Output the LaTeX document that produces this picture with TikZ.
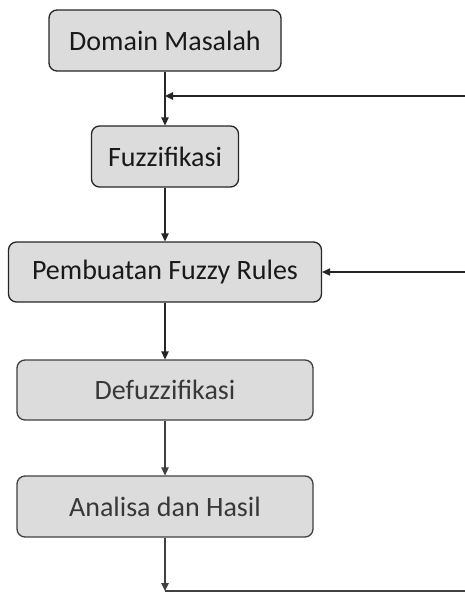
\documentclass[tikz,border=0pt]{standalone}
\usepackage{fontspec}
\setmainfont{Carlito}
\usetikzlibrary{arrows.meta}
\definecolor{boxfill}{HTML}{DCDCDC}
\definecolor{boxline}{HTML}{262626}
\definecolor{softline}{HTML}{404040}
\definecolor{softtext}{HTML}{383838}
\tikzset{
  flowbox/.style={draw=boxline, fill=boxfill, rounded corners=8pt, line width=1.3pt,
    inner sep=0pt, font=\fontsize{28}{31}\selectfont, text=black!90},
  softbox/.style={flowbox, draw=softline, text=softtext},
  conn/.style={line width=1.3pt, draw=boxline, -{Triangle[length=8pt,width=7.5pt]}},
  softconn/.style={conn, draw=softline, -{Triangle[length=8pt,width=7.5pt,fill=softline]}},
  plain/.style={line width=1.3pt, draw=softline}
}
\begin{document}
\begin{tikzpicture}[x=1pt,y=-1pt]
\useasboundingbox (0,0) rectangle (465,592);
\node[flowbox, minimum width=232pt, minimum height=61pt] (dm) at (165,40.5) {Domain Masalah};
\node[flowbox, minimum width=147pt, minimum height=61pt] (fz) at (165,156.5) {Fuzzifikasi};
\node[flowbox, minimum width=313pt, minimum height=60pt] (pf) at (165,272) {Pembuatan Fuzzy Rules};
\node[softbox, minimum width=296pt, minimum height=60pt] (df) at (165,390) {Defuzzifikasi};
\node[softbox, minimum width=296pt, minimum height=61pt] (ah) at (165,506.5) {Analisa dan Hasil};
\coordinate (in1) at (465,96);
\coordinate (j1) at (165,96);
\coordinate (in2) at (465,272);
\coordinate (bot) at (165,591);
\coordinate (out) at (465,591);
\draw[conn] (dm) -- (fz);
\draw[conn] (in1) -- (j1);
\draw[conn] (fz) -- (pf);
\draw[conn] (in2) -- (pf);
\draw[conn] (pf) -- (df);
\draw[softconn] (df) -- (ah);
\draw[softconn] (ah) -- (bot);
\draw[plain] (bot) -- (out);
\end{tikzpicture}
\end{document}
